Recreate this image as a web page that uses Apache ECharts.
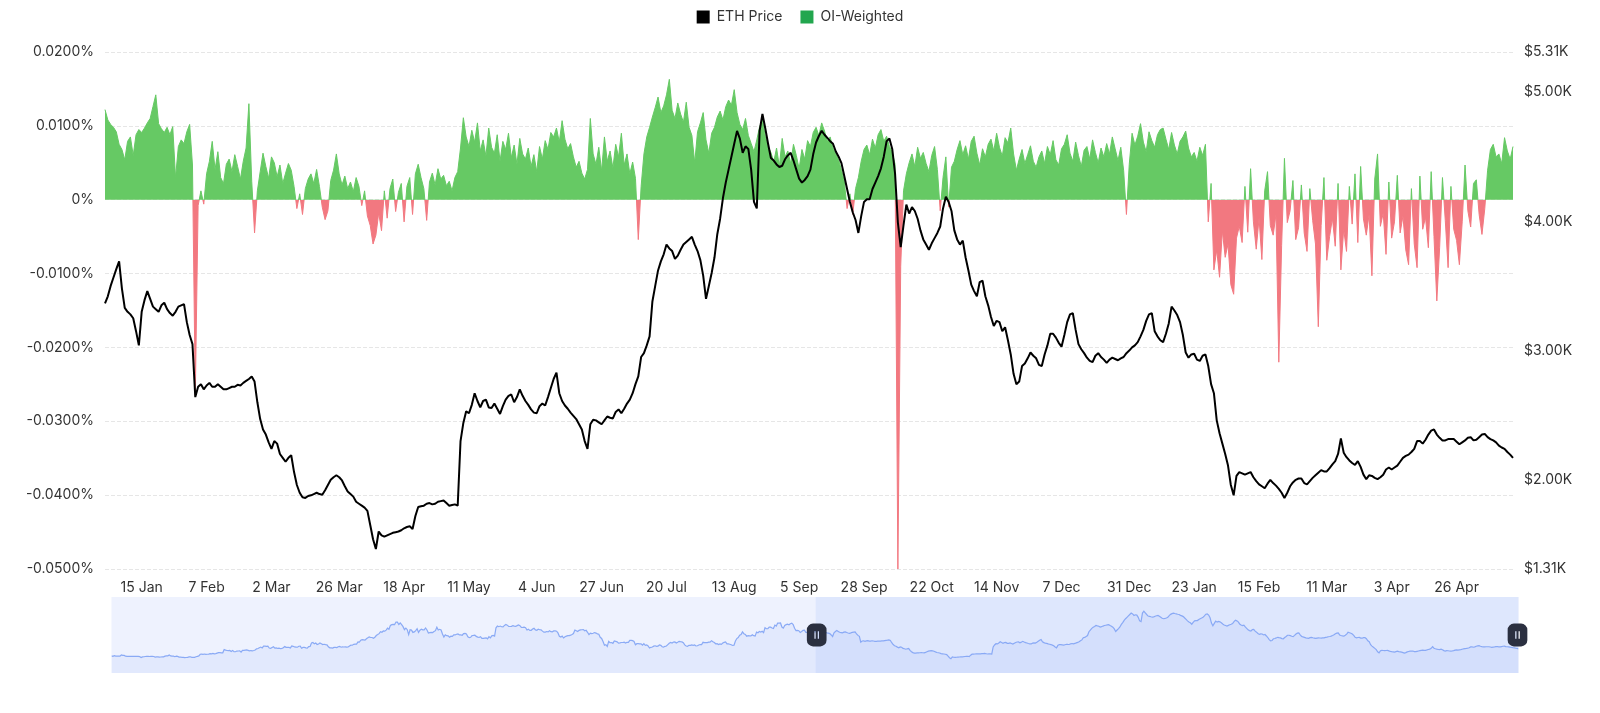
<!DOCTYPE html>
<html><head><meta charset="utf-8">
<script src="https://cdn.jsdelivr.net/npm/echarts@6/dist/echarts.min.js"></script>
<style>html,body{margin:0;padding:0;background:#fff}#chart{width:1600px;height:713px}</style>
</head><body><div id="chart"></div>
<script>
// ---- Data ----
// Daily categories: 2023-08-21 .. 2026-05-16 (1000 days); the view shows 2025-01-02 onwards
const firstDay = '2023-08-21';
const dayCount = 1000;
const viewStart = '2025-01-02';
const viewEnd = '2026-05-16';

// x-axis tick labels shown on the chart
const tickDates = ['2025-01-15','2025-02-07','2025-03-02','2025-03-26','2025-04-18','2025-05-11','2025-06-04','2025-06-27','2025-07-20','2025-08-13','2025-09-05','2025-09-28','2025-10-22','2025-11-14','2025-12-07','2025-12-31','2026-01-23','2026-02-15','2026-03-11','2026-04-03','2026-04-26'];

// ETH price (USD), 2023-08-21 .. 2025-01-01 (only seen in the slider's data shadow)
const ethPriceHistory = [
1668,1635,1680,1650,1652,1657,1645,1730,1705,1705,1645,
1628,1635,1630,1633,1630,1633,1636,1633,1633,1616,1552,1593,1607,1625,1640,1636,1624,1640,1643,1622,1587,1594,1592,1581,1589,1594,1597,1652,1672,1672,
1730,1665,1650,1645,1610,1645,1633,1580,1590,1568,1565,1540,1555,1557,1598,1603,1566,1567,1566,1606,1629,1666,1782,1788,1781,1800,1775,1785,1795,1822,1813,
1846,1807,1833,1863,1893,1899,1887,1888,2123,2080,2050,2045,2055,1980,2055,1962,1961,2011,2015,2022,1930,2063,2062,2080,2087,2060,2028,2047,2029,2052,
2087,2167,2193,2243,2292,2233,2358,2358,2343,2353,2223,2203,2260,2315,2220,2228,2195,2218,2178,2201,2239,2326,2274,2265,2267,2230,2379,2345,2300,2291,2281,
2352,2355,2210,2268,2268,2239,2222,2330,2343,2582,2618,2523,2576,2472,2511,2587,2528,2467,2490,2470,2453,2313,2241,2234,2217,2265,2271,2256,2313,2343,2282,
2305,2296,2310,2290,2298,2372,2430,2423,2486,2505,2505,2660,2640,2775,2822,2805,2785,2880,2945,3015,2970,2970,2920,2990,3110,3175,3245,3385,3340,
3435,3420,3490,3630,3555,3820,3880,3905,3890,4065,4060,3895,4000,3880,3740,3530,3640,3525,3175,3520,3495,3330,3365,3455,3590,3335,3490,3560,3510,3505,3645,
3505,3282,3310,3330,3320,3390,3455,3700,3500,3550,3500,3220,3010,3160,3100,3085,2985,3065,3050,3160,3150,3200,3220,3150,3155,3130,3250,3260,3215,3015,
2970,2985,3100,3115,3135,3050,3000,2975,3030,2910,2910,2930,2950,2880,3035,2945,3090,3120,3070,3660,3785,3735,3780,3730,3725,3830,3890,3845,3760,3750,3760,
3815,3780,3765,3810,3865,3810,3680,3685,3705,3665,3500,3560,3470,3480,3570,3625,3510,3485,3560,3520,3515,3420,3350,3355,3395,3370,3445,3380,3375,3435,
3440,3415,3295,3060,3000,3065,2935,3020,3065,3100,3100,3135,3180,3250,3495,3445,3390,3475,3510,3520,3535,3445,3480,3340,3175,3270,3250,3270,3320,3285,3230,
3205,2985,2905,2690,2420,2460,2340,2690,2600,2610,2555,2720,2700,2660,2570,2590,2615,2615,2635,2575,2630,2625,2765,2770,2745,2685,2455,2530,2530,2525,2515,
2425,2535,2420,2450,2370,2225,2275,2300,2360,2385,2340,2360,2440,2415,2315,2295,2345,2370,2465,2560,2615,2580,2645,2655,2580,2630,2700,2675,2660,2600,
2450,2365,2345,2415,2415,2440,2420,2440,2370,2385,2440,2475,2465,2630,2605,2610,2605,2645,2645,2745,2665,2620,2525,2535,2475,2510,2485,2575,2625,2660,2520,
2515,2495,2455,2405,2425,2720,2895,2965,3130,3185,3370,3240,3190,3060,3100,3090,3080,3170,3100,3070,3350,3310,3400,3360,3415,3320,3660,3590,3590,3710,
3700,3640,3610,3850,3780,3990,3995,4000,3710,3630,3825,3880,3910,3875,3950,3990,3885,3620,3460,3480,3455,3325,3400,3480,3490,3335,3330,3360,3350,3355,3335,
3360
];

// ETH price (USD), 2025-01-02 .. 2026-05-16 (visible window)
const ethPrice = [
3365,3420,3500,3565,3630,3690,3480,3330,3300,3280,
3250,3150,3040,3300,3390,3460,3400,3340,3320,3300,
3350,3370,3320,3290,3270,3300,3340,3350,3360,3220,
3120,3050,2640,2720,2740,2700,2730,2750,2720,2720,
2740,2720,2700,2700,2710,2720,2720,2735,2730,2750,
2765,2780,2800,2760,2600,2470,2390,2350,2290,2240,
2300,2280,2200,2170,2140,2170,2190,2060,1960,1900,
1865,1860,1875,1880,1890,1900,1890,1885,1920,1960,
2000,2020,2035,2020,1995,1950,1910,1890,1870,1830,
1815,1800,1785,1760,1650,1540,1465,1600,1570,1560,
1570,1580,1590,1595,1600,1610,1625,1635,1640,1620,
1720,1790,1795,1800,1815,1820,1810,1815,1830,1835,
1840,1820,1800,1805,1810,1800,2300,2440,2530,2515,
2580,2670,2610,2560,2610,2620,2560,2555,2590,2550,
2510,2570,2620,2650,2660,2600,2640,2700,2650,2610,
2580,2545,2520,2515,2570,2590,2575,2640,2710,2780,
2830,2670,2610,2575,2550,2520,2495,2470,2430,2390,
2300,2240,2430,2465,2460,2445,2430,2460,2490,2480,
2475,2525,2545,2515,2550,2590,2620,2670,2740,2800,
2950,2980,3040,3110,3380,3500,3620,3690,3745,3820,
3790,3770,3710,3735,3780,3820,3840,3860,3880,3820,
3770,3700,3580,3400,3500,3600,3720,3900,4020,4180,
4300,4400,4500,4600,4700,4640,4530,4580,4560,4400,
4150,4100,4700,4830,4720,4600,4490,4470,4440,4420,
4430,4480,4510,4530,4470,4400,4330,4300,4320,4350,
4400,4520,4610,4660,4700,4670,4645,4620,4600,4540,
4500,4450,4350,4250,4150,4070,4010,3910,4040,4150,
4170,4170,4250,4300,4350,4410,4500,4620,4640,4560,
4370,3990,3800,3970,4130,4060,4110,4080,4020,3930,
3860,3820,3780,3830,3870,3910,3960,4100,4190,4150,
4080,3930,3860,3820,3850,3720,3620,3510,3460,3420,
3530,3540,3420,3350,3260,3190,3230,3220,3150,3180,
3080,2970,2820,2740,2760,2880,2900,2940,2985,2960,
2940,2890,2880,2970,3040,3130,3130,3100,3060,3030,
3120,3220,3280,3290,3160,3050,3010,2980,2945,2920,
2910,2960,2980,2950,2930,2905,2930,2945,2935,2925,
2940,2950,2980,3000,3025,3040,3065,3110,3160,3230,
3280,3290,3150,3110,3080,3065,3130,3210,3340,3310,
3275,3220,3120,2985,2945,2970,2975,2930,2920,2960,
2970,2880,2740,2670,2460,2360,2280,2200,2110,1960,
1880,2030,2060,2050,2040,2050,2060,2020,1990,1965,
1950,1935,1970,2000,1975,1955,1930,1900,1860,1900,
1950,1980,2000,2010,2010,1975,1965,1990,2015,2035,
2055,2075,2065,2065,2090,2120,2145,2200,2320,2210,
2175,2150,2130,2115,2145,2100,2040,2005,2035,2030,
2015,2005,2020,2040,2080,2095,2080,2095,2110,2140,
2170,2185,2195,2215,2240,2300,2300,2280,2310,2350,
2380,2390,2350,2325,2305,2305,2315,2315,2315,2295,
2275,2290,2305,2325,2330,2305,2310,2330,2350,2355,
2330,2315,2305,2290,2265,2250,2240,2215,2195,2170
];

// OI-weighted funding rate (%), 2025-01-02 .. 2026-05-16
const oiWeighted = [
0.0122,0.0108,0.0102,0.0098,0.0092,0.0075,0.0068,0.0054,0.0079,0.0085,
0.0060,0.0088,0.0095,0.0091,0.0097,0.0104,0.0110,0.0126,0.0142,0.0103,
0.0096,0.0091,0.0098,0.0088,0.0099,0.0030,0.0072,0.0081,0.0076,0.0092,
0.0102,0.0047,-0.0265,-0.0008,0.0012,-0.0006,0.0035,0.0052,0.0079,0.0041,
0.0065,0.0030,0.0022,0.0048,0.0055,0.0038,0.0061,0.0045,0.0028,0.0052,
0.0070,0.0130,0.0025,-0.0045,0.0012,0.0038,0.0063,0.0045,0.0029,0.0058,
0.0050,0.0031,0.0047,0.0022,0.0036,0.0049,0.0040,0.0018,-0.0012,0.0008,
-0.0020,0.0015,0.0028,0.0035,0.0022,0.0041,0.0018,-0.0010,-0.0027,-0.0015,
0.0026,0.0040,0.0062,0.0035,0.0020,0.0032,0.0015,0.0024,0.0011,0.0030,
0.0018,-0.0008,0.0012,-0.0022,-0.0035,-0.0060,-0.0048,-0.0018,-0.0042,0.0012,
-0.0025,0.0015,0.0028,-0.0016,0.0010,0.0022,-0.0030,0.0018,0.0030,-0.0020,
0.0035,0.0048,0.0030,0.0015,-0.0028,0.0024,0.0036,0.0020,0.0042,0.0028,
0.0033,0.0019,0.0025,0.0012,0.0030,0.0038,0.0070,0.0111,0.0085,0.0072,
0.0094,0.0078,0.0104,0.0066,0.0081,0.0059,0.0097,0.0071,0.0063,0.0088,
0.0052,0.0079,0.0068,0.0090,0.0057,0.0074,0.0048,0.0083,0.0062,0.0055,
0.0070,0.0045,0.0061,0.0038,0.0072,0.0055,0.0080,0.0068,0.0091,0.0085,
0.0097,0.0078,0.0107,0.0082,0.0069,0.0076,0.0058,0.0044,0.0052,0.0036,
0.0028,0.0041,0.0110,0.0062,0.0048,0.0071,0.0039,0.0085,0.0052,0.0066,
0.0043,0.0075,0.0058,0.0090,0.0047,0.0062,0.0035,0.0051,0.0029,-0.0054,
0.0018,0.0062,0.0085,0.0098,0.0112,0.0125,0.0139,0.0118,0.0127,0.0142,
0.0163,0.0121,0.0110,0.0131,0.0116,0.0105,0.0132,0.0098,0.0087,0.0050,
0.0092,0.0104,0.0118,0.0081,0.0063,0.0090,0.0098,0.0112,0.0120,0.0108,
0.0126,0.0135,0.0128,0.0149,0.0118,0.0102,0.0095,0.0110,0.0087,0.0076,
0.0065,0.0081,0.0099,0.0108,0.0086,0.0072,0.0064,0.0051,0.0070,0.0045,
0.0083,0.0058,0.0066,0.0049,0.0075,0.0060,0.0042,0.0068,0.0055,0.0080,
0.0072,0.0091,0.0098,0.0087,0.0104,0.0093,0.0079,0.0085,0.0070,0.0062,
0.0054,0.0040,0.0025,-0.0012,0.0008,-0.0020,0.0015,0.0030,0.0052,0.0068,
0.0074,0.0061,0.0082,0.0070,0.0088,0.0095,0.0079,0.0086,0.0072,0.0064,
0.0048,-0.0500,-0.0090,0.0012,0.0035,0.0050,0.0062,0.0045,0.0071,0.0056,
0.0064,0.0049,0.0038,0.0060,0.0072,0.0041,-0.0015,0.0030,0.0058,-0.0010,
0.0044,0.0052,0.0068,0.0080,0.0061,0.0073,0.0055,0.0079,0.0086,0.0063,
0.0047,0.0069,0.0058,0.0075,0.0082,0.0066,0.0090,0.0071,0.0059,0.0084,
0.0077,0.0097,0.0062,0.0040,0.0055,0.0068,0.0049,0.0061,0.0073,0.0052,
0.0044,0.0058,0.0066,0.0049,0.0072,0.0061,0.0080,0.0054,0.0047,0.0069,
0.0075,0.0088,0.0063,0.0052,0.0078,0.0060,0.0045,0.0067,0.0072,0.0055,
0.0081,0.0064,0.0050,0.0070,0.0058,0.0076,0.0062,0.0085,0.0069,0.0053,
0.0071,0.0040,-0.0020,0.0048,0.0090,0.0074,0.0086,0.0103,0.0078,0.0065,
0.0092,0.0080,0.0071,0.0088,0.0095,0.0097,0.0082,0.0068,0.0091,0.0074,
0.0062,0.0079,0.0085,0.0093,0.0070,0.0058,0.0064,0.0052,0.0071,0.0060,
0.0075,-0.0030,0.0022,-0.0095,-0.0068,-0.0105,-0.0042,-0.0078,-0.0060,-0.0115,
-0.0128,-0.0052,-0.0036,-0.0058,0.0018,-0.0044,0.0042,-0.0030,-0.0067,-0.0025,
-0.0081,0.0012,0.0038,-0.0035,-0.0048,-0.0020,-0.0220,-0.0062,0.0056,-0.0031,
-0.0015,0.0026,-0.0054,-0.0038,0.0020,-0.0045,-0.0070,0.0015,-0.0028,-0.0060,
-0.0172,-0.0035,0.0030,-0.0082,-0.0050,-0.0025,-0.0063,0.0022,-0.0095,-0.0040,
-0.0070,0.0018,-0.0033,0.0035,-0.0058,0.0045,-0.0026,-0.0048,-0.0020,-0.0103,
0.0028,0.0062,-0.0036,-0.0018,-0.0074,0.0024,-0.0052,-0.0030,0.0033,-0.0045,
-0.0022,-0.0068,-0.0088,0.0015,-0.0060,-0.0092,0.0032,-0.0040,-0.0024,-0.0065,
0.0038,-0.0050,-0.0137,-0.0065,0.0030,-0.0028,-0.0092,0.0018,-0.0040,-0.0055,
-0.0088,-0.0030,0.0047,-0.0015,-0.0037,0.0022,0.0027,-0.0020,-0.0047,-0.0012,
0.0040,0.0068,0.0075,0.0058,0.0062,0.0049,0.0084,0.0066,0.0055,0.0072
];

// ---- Build ----
const MON = ['Jan','Feb','Mar','Apr','May','Jun','Jul','Aug','Sep','Oct','Nov','Dec'];
const dates = [];
(function () {
  const t0 = Date.parse(firstDay + 'T00:00:00Z');
  for (let i = 0; i < dayCount; i++) dates.push(new Date(t0 + i * 86400000).toISOString().slice(0, 10));
})();
const tickSet = new Set(tickDates);
const priceData = ethPriceHistory.concat(ethPrice);
const viewIdx = dates.indexOf(viewStart);
const oiData = oiWeighted.map((v, i) => [dates[viewIdx + i], v]);
const fmtDate = s => parseInt(s.slice(8, 10), 10) + ' ' + MON[parseInt(s.slice(5, 7), 10) - 1];

const FONT = 'Inter';
const chart = echarts.init(document.getElementById('chart'), null, { renderer: 'canvas' });
chart.setOption({
  animation: false,
  backgroundColor: '#ffffff',
  textStyle: { fontFamily: FONT },
  legend: {
    top: 5, left: 'center', icon: 'rect', itemWidth: 13, itemHeight: 13, itemGap: 18,
    textStyle: { color: '#333', fontSize: 14, fontFamily: FONT, padding: [0, 0, 0, 2] },
    data: ['ETH Price', 'OI-Weighted']
  },
  grid: { left: 105, right: 87, top: 52, bottom: 144, containLabel: false },
  xAxis: {
    type: 'category', data: dates, boundaryGap: false,
    axisLine: { show: false }, axisTick: { show: false },
    axisLabel: {
      interval: (idx, val) => tickSet.has(val),
      formatter: fmtDate, color: '#333', fontSize: 14, margin: 12, fontFamily: FONT
    },
    splitLine: { show: false }
  },
  yAxis: [
    {
      type: 'value', position: 'left', min: -0.05, max: 0.02, interval: 0.01,
      axisLine: { show: false }, axisTick: { show: false },
      axisLabel: {
        color: '#333', fontSize: 14, margin: 11, fontFamily: FONT,
        formatter: v => (Math.abs(v) < 1e-12 ? '0%' : v.toFixed(4) + '%')
      },
      splitLine: { show: true, lineStyle: { color: '#e6e6e6', type: 'dashed', width: 1 } }
    },
    {
      type: 'value', position: 'right', min: 1310, max: 5310,
      axisLine: { show: false }, axisTick: { show: false },
      axisLabel: {
        color: '#333', fontSize: 14, margin: 11, fontFamily: FONT,
        formatter: v => '$' + (v / 1000).toFixed(2) + 'K'
      },
      splitLine: { show: false }
    }
  ],
  visualMap: {
    show: false, type: 'piecewise', seriesIndex: 1, dimension: 1,
    pieces: [
      { gte: -1, lt: 0, color: '#f27880' },
      { gte: 0, lte: 1, color: '#66c964' }
    ]
  },
  dataZoom: [{
    type: 'slider', xAxisIndex: 0,
    startValue: viewStart, endValue: viewEnd,
    left: 109, right: 84, top: 597, height: 76,
    showDetail: false, brushSelect: false, moveHandleSize: 0,
    backgroundColor: '#eef2fe',
    fillerColor: 'rgba(135,170,247,0.15)',
    borderColor: 'transparent',
    dataBackground: {
      lineStyle: { color: '#8aaaf5', width: 1.2, opacity: 1 },
      areaStyle: { color: '#8fb0f7', opacity: 0.12 }
    },
    selectedDataBackground: {
      lineStyle: { color: '#8aaaf5', width: 1.2, opacity: 1 },
      areaStyle: { color: '#8fb0f7', opacity: 0.12 }
    },
    handleIcon: 'path://M6,0H13A6,6,0,0,1,19,6V16A6,6,0,0,1,13,22H6A6,6,0,0,1,0,16V6A6,6,0,0,1,6,0ZM7.3,7.5V14.5H8.5V7.5ZM10.5,7.5V14.5H11.7V7.5Z',
    handleSize: '30%',
    handleStyle: { color: '#2b3040', borderColor: '#2b3040', borderWidth: 0 }
  }],
  series: [
    {
      name: 'ETH Price', type: 'line', yAxisIndex: 1, z: 3,
      data: priceData, showSymbol: false, symbol: 'none',
      color: '#000000',
      lineStyle: { color: '#000000', width: 2 }
    },
    {
      name: 'OI-Weighted', type: 'line', yAxisIndex: 0, z: 2,
      data: oiData, showSymbol: false, symbol: 'none',
      color: '#22a64e',
      lineStyle: { width: 1 },
      areaStyle: { opacity: 1 }
    }
  ]
});
</script></body></html>
